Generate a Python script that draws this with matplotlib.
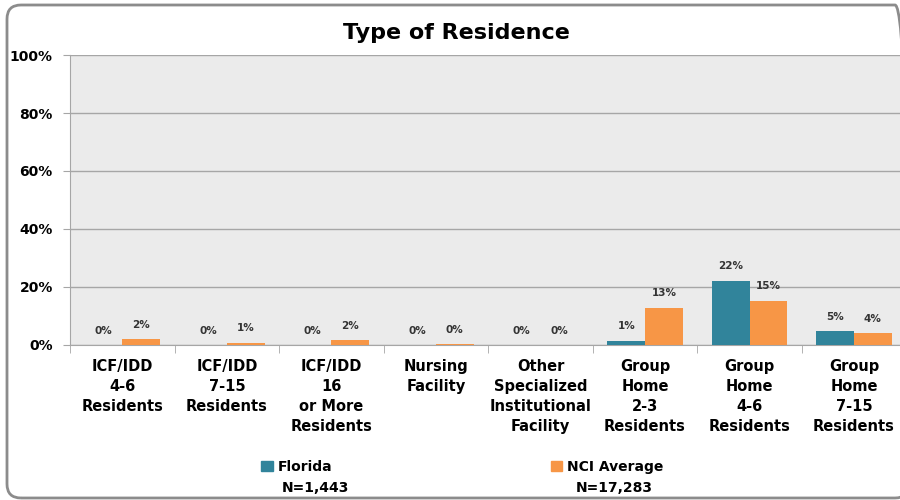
import numpy as np
import matplotlib
matplotlib.use('Agg')
import matplotlib.pyplot as plt
from matplotlib.patches import FancyBboxPatch, Patch

# Type of Residence - Florida vs NCI average
categories = ['ICF/IDD\n4-6\nResidents', 'ICF/IDD\n7-15\nResidents',
              'ICF/IDD\n16\nor More\nResidents', 'Nursing\nFacility',
              'Other\nSpecialized\nInstitutional\nFacility',
              'Group\nHome\n2-3\nResidents', 'Group\nHome\n4-6\nResidents',
              'Group\nHome\n7-15\nResidents']
florida = [0.0, 0.0, 0.0, 0.0, 0.0, 1.4, 22.2, 4.7]
nci_avg = [1.9, 0.7, 1.7, 0.3, 0.0, 12.8, 15.2, 4.1]
series_names = ['Florida', 'NCI Average']
series_n = ['N=1,443', 'N=17,283']
yticks = [0, 20, 40, 60, 80, 100]

teal = '#31849B'
orange = '#F79646'
grid_c = '#A6A6A6'

matplotlib.rc('font', family='DejaVu Sans', weight='bold')

fig = plt.figure(figsize=(9, 5), dpi=100)

# rounded chart border (pixel coords), right side runs off the image
border = FancyBboxPatch((7, 2), 902, 493,
                        boxstyle='round,pad=0,rounding_size=14',
                        transform=None, fill=False,
                        edgecolor='#8C8C8C', linewidth=2)
fig.patches.append(border)

ax = fig.add_axes([0.078, 0.31, 0.929, 0.58])
ax.set_facecolor('#EBEBEB')

x = np.arange(len(categories))
w = 0.36
b1 = ax.bar(x - w / 2, florida, w, color=teal, zorder=3)
b2 = ax.bar(x + w / 2, nci_avg, w, color=orange, zorder=3)

for bars, vals in [(b1, florida), (b2, nci_avg)]:
    for r, v in zip(bars, vals):
        ax.text(r.get_x() + r.get_width() / 2, v + 5.0, '%d%%' % round(v),
                ha='center', va='center', fontsize=7.5, color='#333333')

ax.set_xlim(-0.5, len(categories) - 0.5)
ax.set_ylim(0, 100)
ax.set_yticks(yticks)
ax.set_yticklabels(['%d%%' % t for t in yticks], fontsize=10)
ax.yaxis.grid(True, color=grid_c, linewidth=1, zorder=0)
ax.set_axisbelow(True)

ax.set_xticks(x)
ax.set_xticklabels(categories, fontsize=10.5, linespacing=1.42, va='top')
ax.set_xticks(np.arange(-0.5, len(categories), 1), minor=True)
ax.tick_params(axis='x', which='major', length=0, pad=10)
ax.tick_params(axis='x', which='minor', length=6, color=grid_c)
ax.tick_params(axis='y', length=5, color=grid_c, pad=7.5)

for s in ['top', 'right']:
    ax.spines[s].set_visible(False)
ax.spines['left'].set_color(grid_c)
ax.spines['bottom'].set_color(grid_c)

fig.text(0.507, 0.934, 'Type of Residence', ha='center', va='center',
         fontsize=16, fontweight='bold')

# legend
handles = [Patch(color=teal), Patch(color=orange)]
fig.legend(handles, series_names, loc='center', bbox_to_anchor=(0.514, 0.066),
           ncol=2, frameon=False, fontsize=10, handlelength=0.8,
           handleheight=0.8, handletextpad=0.4, columnspacing=15.7)
fig.text(0.35, 0.024, series_n[0], ha='center', va='center', fontsize=10)
fig.text(0.683, 0.024, series_n[1], ha='center', va='center', fontsize=10)

plt.savefig('out.png', dpi=100)
